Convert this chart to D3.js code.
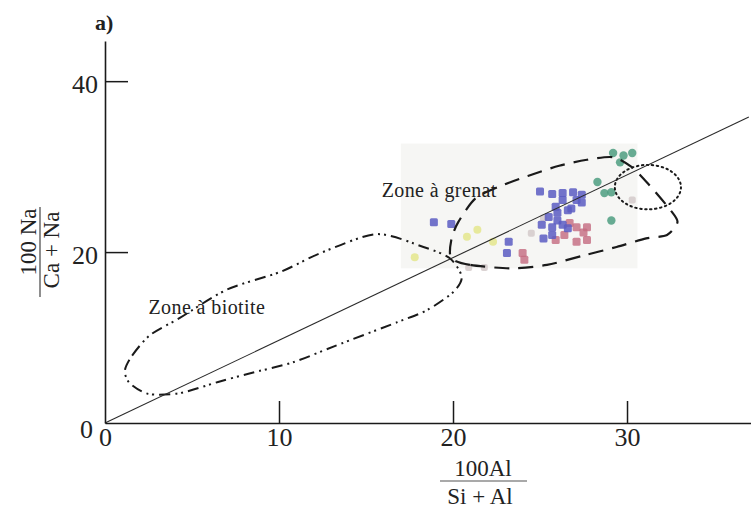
<!DOCTYPE html>
<html><head><meta charset="utf-8">
<script src="https://cdn.jsdelivr.net/npm/d3@7"></script>
<style>
body{margin:0;background:#fff}
svg{display:block;background:#fff}
text{font-family:"Liberation Serif","DejaVu Serif","Times New Roman",serif;fill:#222}
</style>
</head><body>
<svg id="chart" width="751" height="510"></svg>
<script>
// ---- data ----
const xTicks = [0, 10, 20, 30];
const yTicks = [0, 20, 40];
const xLabelParts = ["100Al", "Si + Al"];
const yLabelParts = ["100 Na", "Ca + Na"];
const panelLabel = "a)";
const refLine = [[0, 0], [37, 35.8]];
const insetX = [17.0, 30.6];
const insetY = [18.1, 32.7];

const blueSquares = [[25.0,27.1],[25.7,26.8],[26.3,26.9],[26.9,27.0],[27.1,26.1],[26.3,26.1],[25.9,25.3],[26.6,24.9],[26.0,24.6],[26.8,25.1],[25.5,24.1],[26.0,23.7],[26.3,23.2],[25.7,22.9],[25.1,23.2],[25.2,21.6],[23.2,21.2],[25.7,22.0],[26.6,22.8],[27.4,26.7],[27.4,25.8],[18.9,23.5],[19.9,23.3],[23.1,19.9]];
const redSquares = [[26.7,23.4],[27.1,22.9],[26.4,22.0],[25.9,21.4],[27.1,21.2],[27.7,21.4],[27.5,22.3],[27.7,22.9],[24.0,19.9],[24.1,19.1]];
const greenCircles = [[28.3,28.2],[29.2,31.6],[29.8,31.3],[30.3,31.6],[29.6,30.5],[29.1,27.0],[28.7,26.9],[29.1,23.7]];
const yellowPoints = [[17.8,19.4],[20.8,21.8],[21.4,22.6],[22.3,21.2]];
const grayPoints = [[24.5,22.2],[20.9,18.2],[21.8,18.2],[25.2,24.0],[30.3,26.1]];

const biotiteZone = [[1.15,6.2],[1.6,8.0],[2.6,10.3],[4.3,12.3],[7.0,15.6],[10.1,17.7],[12.4,19.9],[15.6,22.1],[18.3,20.6],[19.8,19.3],[20.5,17.1],[20.0,15.3],[18.5,13.2],[16.8,11.8],[13.2,9.0],[10.8,7.1],[8.3,5.8],[6.5,4.8],[4.3,3.5],[2.5,3.4],[1.4,4.7]];
const grenatZone = [[19.9,19.3],[21.0,18.5],[23.3,18.1],[25.4,18.5],[27.5,19.6],[29.4,20.6],[31.1,21.6],[32.3,22.0],[32.9,23.5],[32.5,24.9],[31.3,27.8],[30.3,29.9],[29.2,31.1],[27.7,30.8],[26.1,30.1],[24.3,28.9],[22.7,27.7],[21.3,26.3],[20.3,23.5],[19.9,21.4]];
const dottedZoneCenter = [31.2, 27.6];
const dottedZoneRadii = [1.9, 2.6];
const zoneLabels = [
  {text: "Zone à grenat", x: 15.9, y: 26.4},
  {text: "Zone à biotite", x: 2.5, y: 12.7}
];

// ---- scales ----
const svg = d3.select("#chart");
const x = d3.scaleLinear().domain([0, 37.2]).range([105, 752.3]);
const y = d3.scaleLinear().domain([0, 44.7]).range([423, 41]);

// faint inset background (scanned photo area)
svg.append("rect")
  .attr("x", x(insetX[0])).attr("y", y(insetY[1]))
  .attr("width", x(insetX[1]) - x(insetX[0])).attr("height", y(insetY[0]) - y(insetY[1]))
  .attr("fill", "#f6f6f4");

// zones
const closedLine = d3.line().x(d => x(d[0])).y(d => y(d[1])).curve(d3.curveCardinalClosed.tension(0.2));

svg.append("path").attr("d", closedLine(biotiteZone))
  .attr("fill", "none").attr("stroke", "#1a1a1a").attr("stroke-width", 2)
  .attr("stroke-dasharray", "11,5,2,4,2,5");

// points
svg.append("g").selectAll("rect").data(grayPoints).join("rect")
  .attr("x", d => x(d[0]) - 3.5).attr("y", d => y(d[1]) - 3.5)
  .attr("width", 7).attr("height", 7).attr("rx", 2)
  .attr("fill", "#d2c8c8").attr("opacity", 0.8);
svg.append("g").selectAll("circle").data(yellowPoints).join("circle")
  .attr("cx", d => x(d[0])).attr("cy", d => y(d[1])).attr("r", 4)
  .attr("fill", "#e4e68c").attr("opacity", 0.85);
svg.append("g").selectAll("rect").data(redSquares).join("rect")
  .attr("x", d => x(d[0]) - 4).attr("y", d => y(d[1]) - 4)
  .attr("width", 8).attr("height", 8).attr("rx", 1.5)
  .attr("fill", "#c46a80").attr("opacity", 0.8);
svg.append("g").selectAll("rect").data(blueSquares).join("rect")
  .attr("x", d => x(d[0]) - 4).attr("y", d => y(d[1]) - 4)
  .attr("width", 8).attr("height", 8).attr("rx", 1.5)
  .attr("fill", "#5b5cc2").attr("opacity", 0.85);
svg.append("g").selectAll("circle").data(greenCircles).join("circle")
  .attr("cx", d => x(d[0])).attr("cy", d => y(d[1])).attr("r", 4.2)
  .attr("fill", "#4e9e80").attr("opacity", 0.85);

svg.append("path").attr("d", closedLine(grenatZone))
  .attr("fill", "none").attr("stroke", "#1a1a1a").attr("stroke-width", 2.2)
  .attr("stroke-dasharray", "15,9");

svg.append("ellipse")
  .attr("cx", x(dottedZoneCenter[0])).attr("cy", y(dottedZoneCenter[1]))
  .attr("rx", x(dottedZoneCenter[0] + dottedZoneRadii[0]) - x(dottedZoneCenter[0]))
  .attr("ry", y(dottedZoneCenter[1]) - y(dottedZoneCenter[1] + dottedZoneRadii[1]))
  .attr("fill", "none").attr("stroke", "#1a1a1a").attr("stroke-width", 2)
  .attr("stroke-dasharray", "1.5,3.5").attr("stroke-linecap", "round");

// reference line
svg.append("path").attr("d", d3.line().x(d => x(d[0])).y(d => y(d[1]))(refLine))
  .attr("fill", "none").attr("stroke", "#2a2a2a").attr("stroke-width", 1.1);

// axes
const xAxis = svg.append("g").attr("transform", `translate(0,${y(0)})`)
  .call(d3.axisBottom(x).tickValues(xTicks).tickSizeInner(-22).tickSizeOuter(0).tickPadding(5).tickFormat(d3.format("d")));
const yAxis = svg.append("g").attr("transform", `translate(${x(0)},0)`)
  .call(d3.axisLeft(y).tickValues(yTicks).tickSizeInner(-23).tickSizeOuter(0).tickPadding(7).tickFormat(d3.format("d")));
[xAxis, yAxis].forEach(g => {
  g.select(".domain").attr("stroke", "#1a1a1a").attr("stroke-width", 1.6);
  g.selectAll(".tick line").attr("stroke", "#1a1a1a").attr("stroke-width", 1.5);
  g.selectAll(".tick text").attr("font-size", 26).attr("fill", "#2a2a2a")
    .style("font-family", '"Liberation Serif","DejaVu Serif",serif');
});
xAxis.selectAll(".tick text").attr("dy", "0.7em");
yAxis.selectAll(".tick text").attr("dy", "0.42em");
yAxis.selectAll(".tick").filter(d => d === 0).select("text").attr("dx", -5).attr("dy", "0.55em");
xAxis.selectAll(".tick").filter(d => d === 0).select("line").remove();
yAxis.selectAll(".tick").filter(d => d === 0).select("line").remove();

// zone labels
svg.append("g").selectAll("text").data(zoneLabels).join("text")
  .attr("x", d => x(d.x)).attr("y", d => y(d.y))
  .attr("font-size", 20).attr("letter-spacing", 0.4).attr("fill", "#222")
  .text(d => d.text);

// x axis fraction label
const xl = svg.append("g").attr("transform", "translate(483,481)");
xl.append("text").attr("x", 0).attr("y", -5).attr("text-anchor", "middle").attr("font-size", 23).text(xLabelParts[0]);
xl.append("line").attr("x1", -43).attr("x2", 44).attr("y1", 0).attr("y2", 0).attr("stroke", "#555").attr("stroke-width", 1.2);
xl.append("text").attr("x", -3).attr("y", 23).attr("text-anchor", "middle").attr("font-size", 23).text(xLabelParts[1]);

// y axis fraction label
const yl = svg.append("g").attr("transform", "translate(40,252) rotate(-90)");
yl.append("text").attr("x", 10).attr("y", -4).attr("text-anchor", "middle").attr("font-size", 23).text(yLabelParts[0]);
yl.append("line").attr("x1", -45).attr("x2", 45).attr("y1", 0).attr("y2", 0).attr("stroke", "#444").attr("stroke-width", 1.2);
yl.append("text").attr("x", 2).attr("y", 19).attr("text-anchor", "middle").attr("font-size", 23).text(yLabelParts[1]);

// panel label
svg.append("text").attr("x", 95).attr("y", 30).attr("font-size", 22).attr("font-weight", "bold").attr("fill", "#111").text(panelLabel);
</script>
</body></html>
